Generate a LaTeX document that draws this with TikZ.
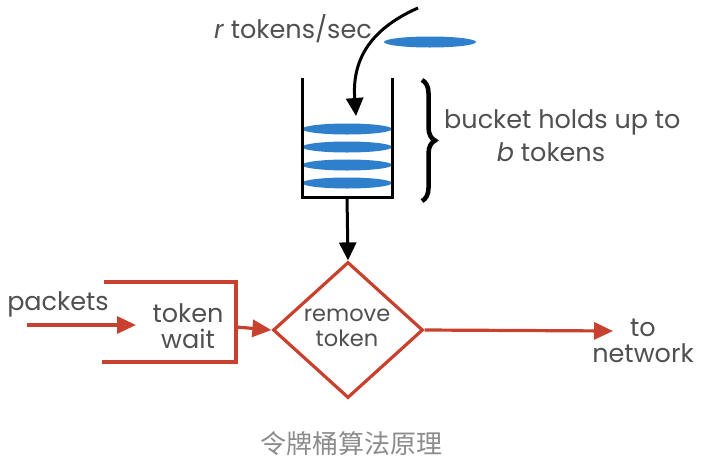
\documentclass[tikz,border=0pt]{standalone}
\usepackage{fontspec}
\setmainfont{Poppins}
\newfontfamily\cjk{Noto Sans CJK SC}
\usetikzlibrary{arrows.meta,shapes.geometric,decorations.pathreplacing}
\definecolor{tred}{HTML}{C8412E}
\definecolor{tblue}{HTML}{2F80CC}
\definecolor{tgrey}{HTML}{505050}
\begin{document}
\begin{tikzpicture}[x=1pt,y=-1pt,
  lbl/.style={text=tgrey,font=\fontsize{25.5}{28}\selectfont,inner sep=0pt,align=center},
  tok/.style={ellipse,fill=tblue,draw=none,inner sep=0pt,minimum width=90pt,minimum height=11pt},
  redline/.style={draw=tred,line width=3.2pt},
  redarrow/.style={redline,-{Triangle[length=19pt,width=17pt]}},
  blkarrow/.style={draw=black,line width=3pt,-{Triangle[length=18pt,width=17pt]}},
  dia/.style={diamond,draw=tred,line width=3.2pt,minimum width=150pt,minimum height=136pt,inner sep=0pt,aspect=1.1}]
\useasboundingbox[fill=white] (0,0) rectangle (706,472);
% top text
\node[lbl,anchor=east] (rate) at (372,29) {\textit{r} tokens/sec};
\node[tok,minimum width=92pt] (newtok) at (430,42) {};
\coordinate (src) at (418,8);
\coordinate (into) at (356,116);
\draw[blkarrow] (src) .. controls (368,30) and (352,62) .. (into);
% bucket
\coordinate (bl) at (302,78);
\coordinate (blb) at (302,197);
\coordinate (brb) at (392,197);
\coordinate (br) at (392,78);
\node[tok] (t1) at (347,129) {};
\node[tok] (t2) at (347,147) {};
\node[tok] (t3) at (347,165) {};
\node[tok] (t4) at (347,183) {};
\draw[black,line width=3pt] (bl) -- (blb) -- (brb) -- (br);
\draw[black,line width=4.5pt,decorate,decoration={brace,amplitude=13pt}] (422,80) -- (422,201);
\node[lbl,anchor=west] (holds) at (444,122) {bucket holds up to};
\node[lbl] (btok) at (551,152) {\textit{b} tokens};
% diamond
\node[dia] (rm) at (348,330) {};
\node[lbl,font=\fontsize{22.5}{27}\selectfont] (rmtxt) at (347,328) {remove\\[-2pt]token};
\coordinate (bmid) at (347,197);
\draw[blkarrow] (bmid) -- (rm.north);
% token wait box
\coordinate (twtl) at (104,282);
\coordinate (twtr) at (236,282);
\coordinate (twbr) at (236,362);
\coordinate (twbl) at (102,362);
\draw[redline] (twtl) -- (twtr) -- (twbr) -- (twbl);
\node[lbl] (tw) at (188,326) {token\\[-2pt]wait};
\coordinate (twout) at (236,327);
\draw[redarrow] (twout) -- (rm.west);
% packets
\node[lbl] (pk) at (58,304) {packets};
\coordinate (pkin) at (27,325);
\coordinate (pkend) at (136,325);
\draw[redarrow] (pkin) -- (pkend);
% to network
\coordinate (net) at (613,331);
\draw[redarrow] (rm.east) -- (net);
\node[lbl] (tonet) at (643,341) {to\\[-2pt]network};
% caption
\node[text=gray!90,font=\cjk\fontsize{26}{30}\selectfont,inner sep=0pt] (cap) at (351,444) {令牌桶算法原理};
\end{tikzpicture}
\end{document}
